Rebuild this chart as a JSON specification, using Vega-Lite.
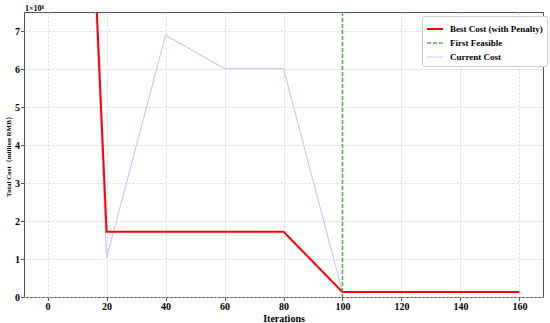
{
  "$schema": "https://vega.github.io/schema/vega-lite/v6.json",
  "width": 519,
  "height": 285,
  "autosize": {"type": "none"},
  "padding": {"left": 24, "top": 12, "right": 7, "bottom": 26},
  "background": "white",
  "title": {"text": "1×10⁸", "anchor": "start", "frame": "group", "fontSize": 8, "font": "Liberation Serif", "fontWeight": "bold", "offset": 0, "baseline": "bottom", "dx": 1, "dy": 9},
  "data": {"values": [
    {"iteration": 0, "cost": 36.7, "series": "Current Cost"},
    {"iteration": 20, "cost": 1.02, "series": "Current Cost"},
    {"iteration": 40, "cost": 6.89, "series": "Current Cost"},
    {"iteration": 60, "cost": 6.01, "series": "Current Cost"},
    {"iteration": 80, "cost": 6.01, "series": "Current Cost"},
    {"iteration": 100, "cost": 0.13, "series": "Current Cost"},
    {"iteration": 120, "cost": 0.13, "series": "Current Cost"},
    {"iteration": 140, "cost": 0.13, "series": "Current Cost"},
    {"iteration": 160, "cost": 0.13, "series": "Current Cost"},
    {"iteration": 0, "cost": 36.7, "series": "Best Cost (with Penalty)"},
    {"iteration": 20, "cost": 1.72, "series": "Best Cost (with Penalty)"},
    {"iteration": 40, "cost": 1.72, "series": "Best Cost (with Penalty)"},
    {"iteration": 60, "cost": 1.72, "series": "Best Cost (with Penalty)"},
    {"iteration": 80, "cost": 1.72, "series": "Best Cost (with Penalty)"},
    {"iteration": 100, "cost": 0.13, "series": "Best Cost (with Penalty)"},
    {"iteration": 120, "cost": 0.13, "series": "Best Cost (with Penalty)"},
    {"iteration": 140, "cost": 0.13, "series": "Best Cost (with Penalty)"},
    {"iteration": 160, "cost": 0.13, "series": "Best Cost (with Penalty)"},
    {"iteration": 100, "series": "First Feasible"}
  ]},
  "encoding": {
    "x": {"field": "iteration", "type": "quantitative", "title": "Iterations",
          "scale": {"domain": [-8, 168], "nice": false, "zero": false},
          "axis": {"values": [0, 20, 40, 60, 80, 100, 120, 140, 160], "titlePadding": 2}},
    "color": {"field": "series", "type": "nominal",
              "scale": {"domain": ["Best Cost (with Penalty)", "First Feasible", "Current Cost"], "range": ["#ff0000", "#55b055", "#c8c8ff"]},
              "legend": {"title": null, "orient": "none", "legendX": 398, "legendY": 4}},
    "strokeDash": {"field": "series", "type": "nominal",
              "scale": {"domain": ["Best Cost (with Penalty)", "First Feasible", "Current Cost"], "range": [[1, 0], [4, 2], [1, 0]]},
              "legend": {"title": null, "orient": "none", "legendX": 398, "legendY": 4}},
    "strokeWidth": {"field": "series", "type": "nominal",
              "scale": {"domain": ["Best Cost (with Penalty)", "First Feasible", "Current Cost"], "range": [2, 1.2, 0.9]},
              "legend": {"title": null, "orient": "none", "legendX": 398, "legendY": 4}}
  },
  "layer": [
    {"transform": [{"filter": "datum.series === 'Current Cost'"}],
     "mark": {"type": "line", "clip": true},
     "encoding": {"y": {"field": "cost", "type": "quantitative", "title": "Total Cost（million RMB）",
                        "scale": {"domain": [0, 7.5], "nice": false, "zero": true},
                        "axis": {"values": [0, 1, 2, 3, 4, 5, 6, 7]}}}},
    {"transform": [{"filter": "datum.series === 'Best Cost (with Penalty)'"}],
     "mark": {"type": "line", "clip": true},
     "encoding": {"y": {"field": "cost", "type": "quantitative", "title": "Total Cost（million RMB）",
                        "scale": {"domain": [0, 7.5], "nice": false, "zero": true},
                        "axis": {"values": [0, 1, 2, 3, 4, 5, 6, 7]}}}},
    {"transform": [{"filter": "datum.series === 'First Feasible'"}],
     "mark": {"type": "rule", "clip": true},
     "encoding": {}}
  ],
  "resolve": {"scale": {"y": "shared"}},
  "config": {
    "font": "Liberation Serif",
    "view": {"stroke": "#555", "strokeWidth": 1},
    "axis": {"labelFont": "Liberation Serif", "labelFontWeight": "bold", "labelFontSize": 10, "labelColor": "#000",
             "titleFont": "Liberation Serif", "titleFontWeight": "bold", "titleFontSize": 10, "titleColor": "#000",
             "domain": false, "tickColor": "#555", "tickSize": 3.5, "labelPadding": 1,
             "grid": true, "gridColor": "#cccccc", "gridDash": [2, 2], "gridWidth": 0.8},
    "axisY": {"titleFontSize": 7, "titlePadding": 3},
    "legend": {"labelFont": "Liberation Serif", "labelFontWeight": "bold", "labelFontSize": 9, "labelColor": "#000",
               "symbolType": "stroke", "symbolSize": 256, "strokeColor": "#cccccc", "fillColor": "white",
               "padding": 4, "cornerRadius": 2, "rowPadding": -4, "labelOffset": 6}
  }
}
